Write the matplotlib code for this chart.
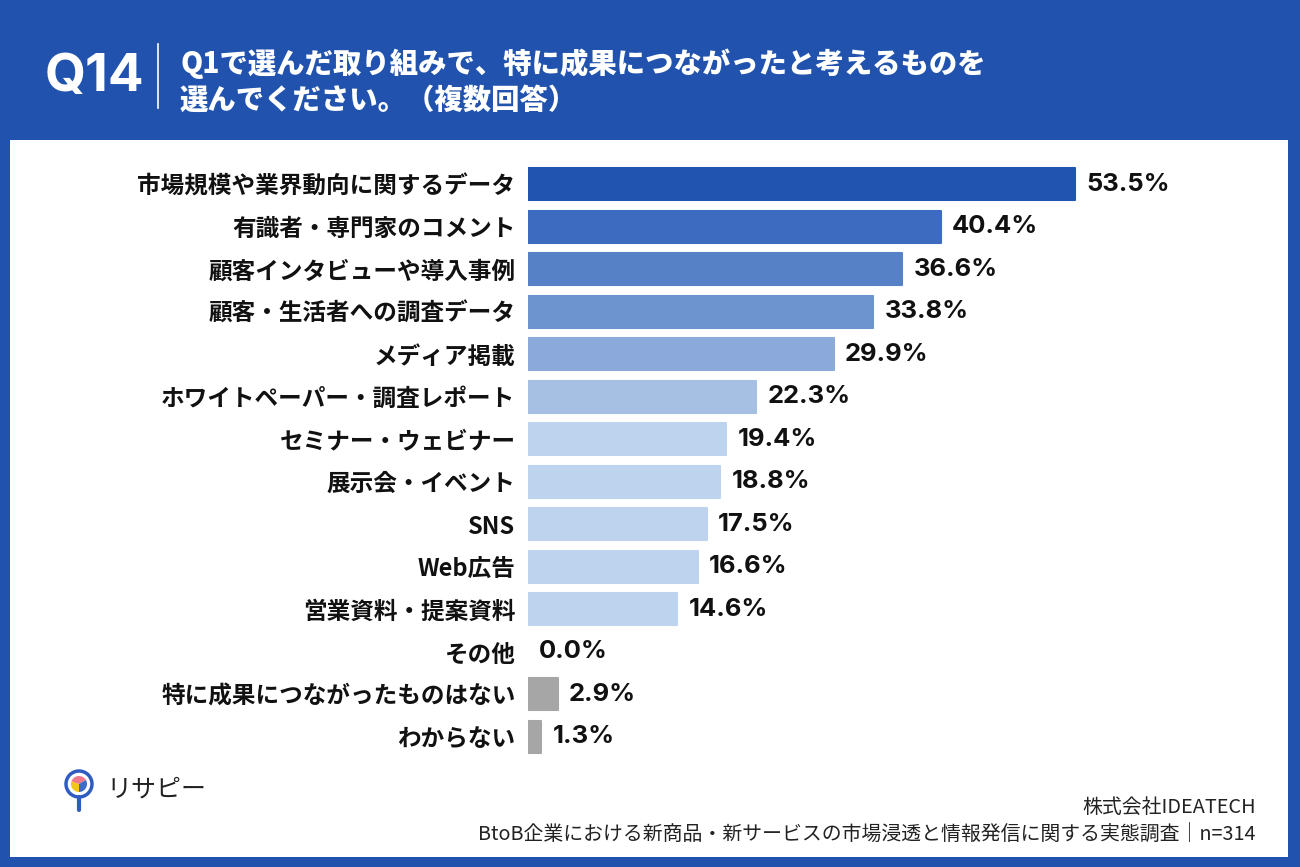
import matplotlib
matplotlib.use("Agg")
import matplotlib.pyplot as plt
from matplotlib.patches import Rectangle, Circle, Wedge

plt.rcParams["font.family"] = ["Noto Sans CJK JP", "DejaVu Sans"]

categories = [
    "市場規模や業界動向に関するデータ",
    "有識者・専門家のコメント",
    "顧客インタビューや導入事例",
    "顧客・生活者への調査データ",
    "メディア掲載",
    "ホワイトペーパー・調査レポート",
    "セミナー・ウェビナー",
    "展示会・イベント",
    "SNS",
    "Web広告",
    "営業資料・提案資料",
    "その他",
    "特に成果につながったものはない",
    "わからない",
]
values = [53.5, 40.4, 36.6, 33.8, 29.9, 22.3, 19.4, 18.8, 17.5, 16.6, 14.6, 0.0, 2.9, 1.3]
colors = [
    "#2153b0", "#3c6bc0", "#5681c7", "#6e94cf", "#8baadb", "#a6c0e4",
    "#bed4ee", "#bed4ee", "#bed4ee", "#bed4ee", "#bed4ee",
    "#a6a6a6", "#a6a6a6", "#a6a6a6",
]

title_q = "Q14"
title_lines = ["Q1で選んだ取り組みで、特に成果につながったと考えるものを",
               "選んでください。（複数回答）"]
footer_1 = "株式会社IDEATECH"
footer_2 = "BtoB企業における新商品・新サービスの市場浸透と情報発信に関する実態調査｜n=314"

W, H = 1300, 867
BLUE = "#2153ae"

fig = plt.figure(figsize=(W / 100, H / 100), dpi=100)
fig.patch.set_facecolor(BLUE)

# background + white panel
bg = fig.add_axes([0, 0, 1, 1], zorder=-10)
bg.set_xlim(0, W)
bg.set_ylim(H, 0)
bg.axis("off")
bg.add_patch(Rectangle((10, 140), 1278, 717, facecolor="white", edgecolor="none"))

# header
bg.text(45, 78, title_q, color="white", fontsize=38,
        fontweight="bold", family=["Inter", "DejaVu Sans"], va="center", ha="left")
bg.plot([158, 158], [44, 108], color="white", lw=1.2)
bg.text(180, 64, title_lines[0], color="white", fontsize=20.4,
        fontweight="heavy", va="center", ha="left")
bg.text(180, 100, title_lines[1], color="white", fontsize=20.4,
        fontweight="heavy", va="center", ha="left")

# logo
bg.add_patch(Circle((79, 784), 13, facecolor="white", edgecolor="#2e5cc0", lw=2.5))
bg.add_patch(Wedge((79, 784), 8, 90, 200, facecolor="#f6c21c"))
bg.add_patch(Wedge((79, 784), 8, 200, 330, facecolor="#f07a8a"))
bg.add_patch(Wedge((79, 784), 8, 330, 450, facecolor="#3d6cc8"))
bg.plot([79, 79], [797, 810], color="#2e5cc0", lw=3, solid_capstyle="round")
bg.text(106, 790, "リサピー", fontsize=18, color="#222222",
        va="center", ha="left")

# footer
bg.text(1256, 807, footer_1, fontsize=14.3, color="#222222",
        ha="right", va="center")
bg.text(1256, 835, footer_2, fontsize=14.3, color="#222222",
        ha="right", va="center")

# chart axes
left, right = 528, 528 + 60 * 10.22
top, bottom = 184 - 21.25, 737 + 21.25
ax = fig.add_axes([left / W, 1 - bottom / H, (right - left) / W, (bottom - top) / H])
ax.set_facecolor("none")
y = list(range(len(categories)))
for i, (v, c) in enumerate(zip(values, colors)):
    ax.barh(i, v, height=0.75, color=c, edgecolor=c if v > 0 else "none",
            linewidth=1.5 if v > 0 else 0, joinstyle="round")
    ax.text(v + 1.1, i, f"{v:.1f}%", va="center", ha="left", fontsize=18.4,
            fontweight="bold", color="#111111",
            family=["Inter", "Noto Sans CJK JP"])
ax.set_xlim(0, 60)
ax.set_ylim(len(categories) - 0.5, -0.5)
ax.set_yticks(y)
ax.set_yticklabels(categories, fontsize=17, fontweight="bold", color="#111111")
ax.tick_params(axis="y", length=0, pad=9)
ax.set_xticks([])
for s in ax.spines.values():
    s.set_visible(False)

fig.savefig("out.png", dpi=100, facecolor=BLUE)
